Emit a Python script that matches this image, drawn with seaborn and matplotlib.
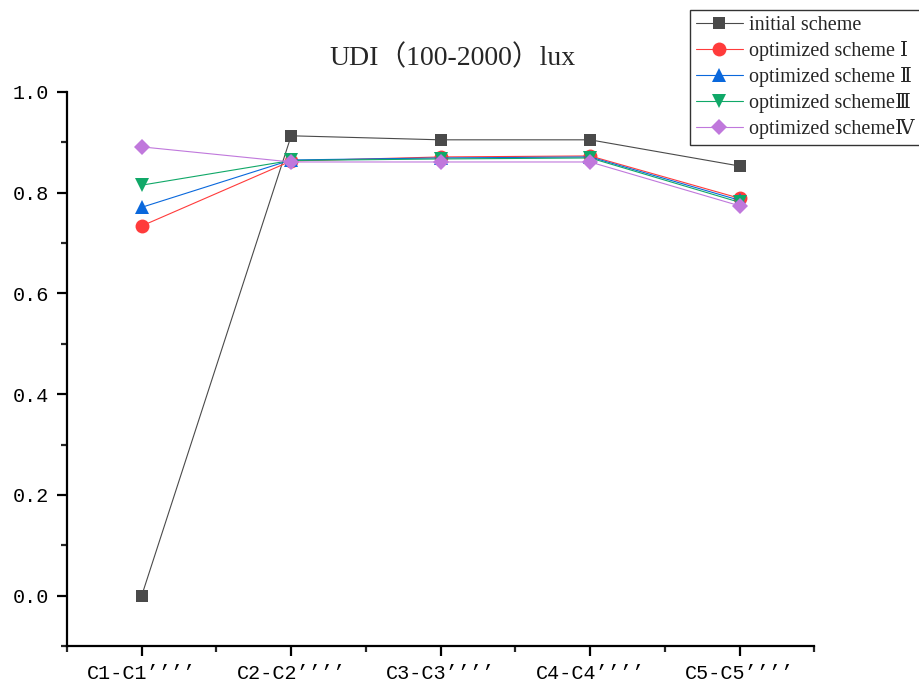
import matplotlib
matplotlib.use("Agg")
import matplotlib.pyplot as plt
from matplotlib.ticker import MultipleLocator
import seaborn as sns
import pandas as pd

categories = ["C1-C1’’’’", "C2-C2’’’’", "C3-C3’’’’", "C4-C4’’’’", "C5-C5’’’’"]
initial_scheme = [0.000, 0.913, 0.905, 0.905, 0.853]
optimized_1 = [0.734, 0.863, 0.871, 0.873, 0.789]
optimized_2 = [0.771, 0.865, 0.869, 0.871, 0.785]
optimized_3 = [0.815, 0.864, 0.867, 0.869, 0.781]
optimized_4 = [0.891, 0.861, 0.861, 0.861, 0.774]
series_names = ["initial scheme", "optimized scheme \u2160", "optimized scheme \u2161",
                "optimized scheme\u2162", "optimized scheme\u2163"]
y_ticks = [0.0, 0.2, 0.4, 0.6, 0.8, 1.0]
y_tick_labels = ["0.0", "0.2", "0.4", "0.6", "0.8", "1.0"]

sns.set_theme(style="ticks")
plt.rcParams["font.family"] = ["Liberation Serif", "DejaVu Serif", "Noto Sans CJK SC", "DejaVu Sans"]

series = [initial_scheme, optimized_1, optimized_2, optimized_3, optimized_4]
colors = ["#4a4a4a", "#ff3b3b", "#0a68dc", "#10a868", "#c078dc"]
markers = ["s", "o", "^", "v", "D"]
msizes = [9, 10, 10, 10, 8.5]

fig = plt.figure(figsize=(9.19, 6.9), dpi=100)
ax = fig.add_axes([0.0729, 0.0638, 0.8131, 0.8029])

x = list(range(len(categories)))
for name, vals, c, m, ms in zip(series_names, series, colors, markers, msizes):
    df = pd.DataFrame({"x": x, "y": vals})
    sns.lineplot(data=df, x="x", y="y", ax=ax, color=c, marker=m, markersize=ms,
                 markeredgewidth=0, linewidth=0.8, label=name)

ax.set_xlim(-0.5, 4.5)
ax.set_ylim(-0.1, 1.0)
ax.set_xticks(x)
ax.set_xticklabels(categories, family="Liberation Mono")
ax.xaxis.set_minor_locator(MultipleLocator(0.5))
ax.yaxis.set_minor_locator(MultipleLocator(0.1))
ax.set_yticks(y_ticks)
ax.set_yticklabels(y_tick_labels, family="Liberation Mono")
ax.set_xlabel("")
ax.set_ylabel("")
for s in ["top", "right"]:
    ax.spines[s].set_visible(False)
for s in ["left", "bottom"]:
    ax.spines[s].set_linewidth(1.6)
    ax.spines[s].set_color("black")
ax.tick_params(axis="both", which="major", direction="out", length=7, width=1.6,
               labelsize=14.5, colors="black", pad=6)
ax.tick_params(axis="both", which="minor", direction="out", length=4, width=1.6)

fig.text(453 / 919, 1 - 58 / 690, "UDI\uff08100-2000\uff09lux", fontsize=20,
         ha="center", va="center")

leg = ax.legend(loc="upper left", bbox_to_anchor=(0.751, 0.986),
                bbox_transform=fig.transFigure, frameon=True, fancybox=False,
                edgecolor="black", fontsize=14.5, handlelength=2.3,
                borderaxespad=0, labelspacing=0.3, handletextpad=0.3,
                borderpad=0.3)
leg.get_frame().set_linewidth(1.0)

fig.savefig("out.png", dpi=100)
